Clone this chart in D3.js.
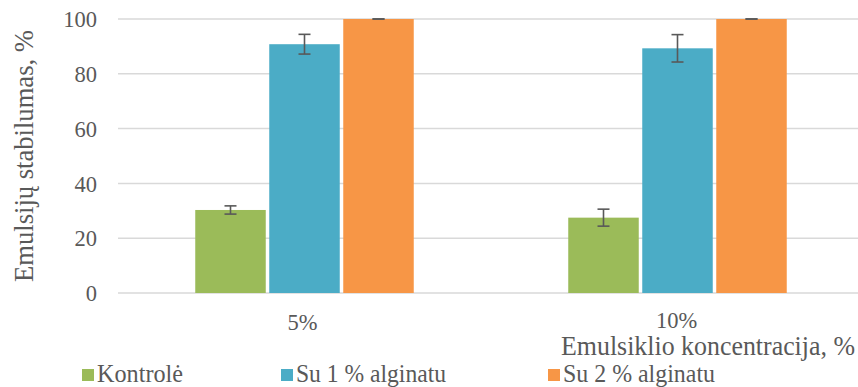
<!DOCTYPE html>
<html><head><meta charset="utf-8">
<script src="https://cdn.jsdelivr.net/npm/d3@7"></script>
<style>
body{margin:0;background:#fff;}
</style></head>
<body><svg id="c" width="858" height="387"></svg>
<script>
const categories = ["5%", "10%"];
const seriesNames = ["Kontrolė", "Su 1 % alginatu", "Su 2 % alginatu"];
const kontrole = [30.3, 27.5];
const alg1 = [90.8, 89.3];
const alg2 = [100, 100];
const errKontrole = [1.5, 3.1];
const errAlg1 = [3.6, 5.0];
const errAlg2 = [0, 0];
const yTicks = [0, 20, 40, 60, 80, 100];
const colors = ["#9BBB59", "#4BACC6", "#F79646"];

(function () {
const FONT = "Liberation Serif, DejaVu Serif, serif";
const values = [kontrole, alg1, alg2];
const errs = [errKontrole, errAlg1, errAlg2];

const svg = d3.select("#c");
const mLeft = 118, mRight = 864, mTop = 19, mBottom = 293;

const x = d3.scaleBand().domain(categories).range([mLeft, mRight]).paddingInner(0).paddingOuter(0);
const y = d3.scaleLinear().domain([0, 100]).range([mBottom, mTop]);
const barW = 70.5, gap = 3.5;
const groupW = 3 * barW + 2 * gap;
const xs = d3.scaleBand().domain(seriesNames).range([0, groupW]).paddingInner(gap / (barW + gap)).paddingOuter(0);

// grid
svg.append("g").selectAll("line").data(yTicks).join("line")
  .attr("x1", mLeft).attr("x2", 858)
  .attr("y1", d => y(d)).attr("y2", d => y(d))
  .attr("stroke", "#d9d9d9").attr("stroke-width", 1.5);

// y axis labels
const yAxis = d3.axisLeft(y).tickValues(yTicks).tickSize(0).tickPadding(21);
const ga = svg.append("g").attr("transform", `translate(${mLeft},0)`).call(yAxis);
ga.select(".domain").remove();
ga.attr("font-family", null).attr("font-size", null);
ga.selectAll("text").attr("fill", "#595959").attr("dy", "0.34em")
  .style("font-family", FONT).style("font-size", "22.5px");

// bars
seriesNames.forEach((s, si) => {
  const g = svg.append("g");
  categories.forEach((c, ci) => {
    const cx = x(c) + x.bandwidth() / 2 - groupW / 2 + xs(s);
    g.append("rect")
      .attr("x", cx).attr("width", xs.bandwidth())
      .attr("y", y(values[si][ci])).attr("height", y(0) - y(values[si][ci]))
      .attr("fill", colors[si]);
  });
});
seriesNames.forEach((s, si) => {
  categories.forEach((c, ci) => {
    const cx = x(c) + x.bandwidth() / 2 - groupW / 2 + xs(s);
    const mx = cx + xs.bandwidth() / 2;
    const hi = y(values[si][ci] + errs[si][ci]), lo = y(values[si][ci] - errs[si][ci]);
    const eg = svg.append("g").attr("stroke", "#595959").attr("stroke-width", 1.6);
    eg.append("line").attr("x1", mx).attr("x2", mx).attr("y1", hi).attr("y2", lo);
    eg.append("line").attr("x1", mx - 6).attr("x2", mx + 6).attr("y1", hi).attr("y2", hi);
    eg.append("line").attr("x1", mx - 6).attr("x2", mx + 6).attr("y1", lo).attr("y2", lo);
  });
});

const tg = svg.append("g").attr("fill", "#595959");

// x labels
tg.append("g").selectAll("text").data(categories).join("text")
  .attr("x", (d, i) => x(d) + x.bandwidth() / 2 + (i === 0 ? -2 : -1))
  .attr("y", (d, i) => i === 0 ? 330 : 328)
  .attr("text-anchor", "middle")
  .style("font-family", FONT).style("font-size", "22.5px")
  .text(d => d);

tg.append("text").attr("x", 561).attr("y", 355)
  .attr("textLength", 294).attr("lengthAdjust", "spacingAndGlyphs")
  .style("font-family", FONT).style("font-size", "27px").text("Emulsiklio koncentracija, %");

tg.append("text")
  .attr("transform", "translate(33,156) rotate(-90)")
  .attr("text-anchor", "middle")
  .attr("textLength", 252).attr("lengthAdjust", "spacingAndGlyphs")
  .style("font-family", FONT).style("font-size", "28px")
  .text("Emulsijų stabilumas, %");

// legend
const legX = [82, 281, 548];
const legW = [86, 150, 152];
seriesNames.forEach((s, i) => {
  tg.append("rect").attr("x", legX[i]).attr("y", 369).attr("width", 12).attr("height", 12).attr("fill", colors[i]);
  tg.append("text").attr("x", legX[i] + 15).attr("y", 382)
    .attr("textLength", legW[i]).attr("lengthAdjust", "spacingAndGlyphs")
    .style("font-family", FONT).style("font-size", "25px").text(s);
});
})();
</script></body></html>
